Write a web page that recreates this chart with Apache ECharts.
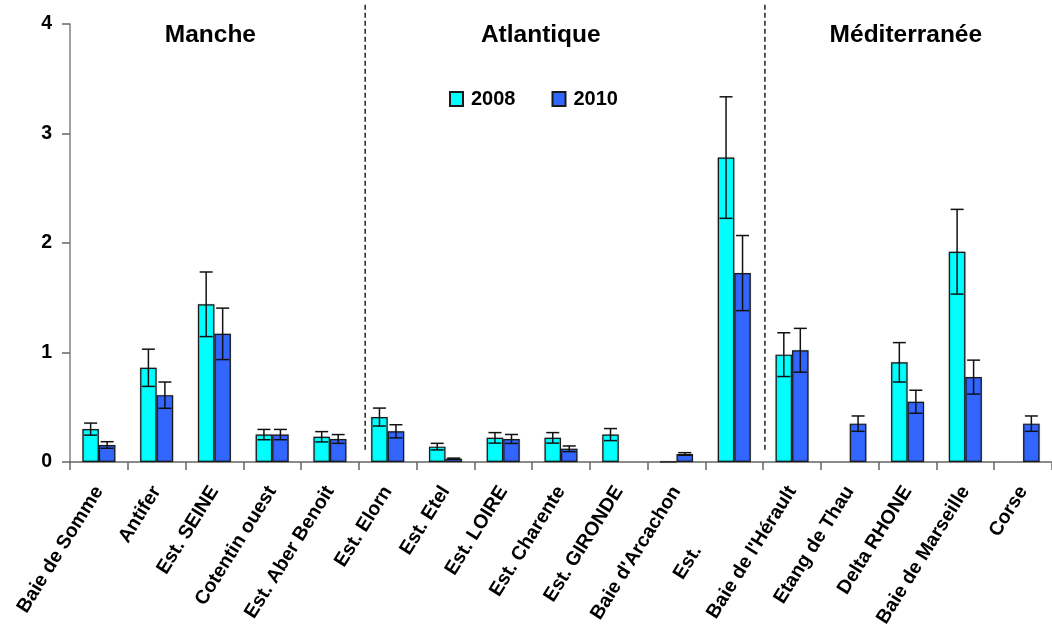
<!DOCTYPE html>
<html>
<head>
<meta charset="utf-8">
<script src="https://cdn.jsdelivr.net/npm/echarts@6/dist/echarts.min.js"></script>
<style>
  html, body { margin: 0; padding: 0; background: #fff; }
  #chart { width: 1052px; height: 630px; }
</style>
</head>
<body>
<div id="chart"></div>
<script>
// Sites, grouped by coastline
const categories = [
  'Baie de Somme', 'Antifer', 'Est. SEINE', 'Cotentin ouest', 'Est. Aber Benoit',
  'Est. Elorn', 'Est. Etel', 'Est. LOIRE', 'Est. Charente', 'Est. GIRONDE',
  "Baie d'Arcachon", 'Est.', "Baie de l'Hérault", 'Etang de Thau', 'Delta RHONE',
  'Baie de Marseille', 'Corse'
];

// Mean values and error (±) per site
const values2008 = [0.30, 0.86, 1.44, 0.25, 0.23, 0.41, 0.14, 0.22, 0.22, 0.25, 0, 2.78, 0.98, null, 0.91, 1.92, null];
const errors2008 = [0.055, 0.17, 0.295, 0.047, 0.047, 0.082, 0.03, 0.048, 0.048, 0.055, null, 0.555, 0.20, null, 0.18, 0.387, null];
const values2010 = [0.155, 0.61, 1.17, 0.25, 0.21, 0.28, 0.03, 0.21, 0.12, null, 0.073, 1.725, 1.02, 0.35, 0.55, 0.775, 0.35];
const errors2010 = [0.03, 0.12, 0.235, 0.047, 0.04, 0.06, 0.005, 0.041, 0.026, null, 0.012, 0.343, 0.20, 0.07, 0.105, 0.155, 0.07];

const yTicks = [0, 1, 2, 3, 4];

// Coastline groups: title positions and separators on a 0..17 site scale
const regions = ['Manche', 'Atlantique', 'Méditerranée'];
const regionTitleX = [2.43, 8.15, 14.47];
const regionTitleY = 3.9;
const separatorX = [5.11, 12.03];
const separatorSpan = [0.103, 4.176];

const FONT = "'Liberation Sans', Arial, sans-serif";
const BAR_W = 16.5;
const LABEL_FONT = { fontFamily: FONT, fontSize: 19.5, fontWeight: 'bold', color: '#000' };

function errorSeries(name, values, errors, side) {
  const data = [];
  values.forEach((v, i) => {
    if (v != null && errors[i] != null) data.push([i, v, errors[i]]);
  });
  return {
    type: 'custom',
    name: name,
    silent: true,
    z: 5,
    data: data,
    encode: { x: 0, y: 1 },
    renderItem(params, api) {
      const i = api.value(0), v = api.value(1), e = api.value(2);
      const hi = api.coord([i, v + e]);
      const lo = api.coord([i, v - e]);
      const x = hi[0] + side * BAR_W / 2;
      const cap = 6.5;
      const style = { stroke: '#111', lineWidth: 1.5 };
      return {
        type: 'group',
        children: [
          { type: 'line', shape: { x1: x, y1: hi[1], x2: x, y2: lo[1] }, style },
          { type: 'line', shape: { x1: x - cap, y1: hi[1], x2: x + cap, y2: hi[1] }, style },
          { type: 'line', shape: { x1: x - cap, y1: lo[1], x2: x + cap, y2: lo[1] }, style }
        ]
      };
    }
  };
}

const barItem = (color) => ({
  color: color,
  borderColor: '#1a1a1a',
  borderWidth: 1.2,
  shadowColor: 'rgba(0,0,0,0.3)',
  shadowBlur: 1.5
});

const chart = echarts.init(document.getElementById('chart'), null, { renderer: 'canvas' });

chart.setOption({
  animation: false,
  backgroundColor: '#fff',
  textStyle: { fontFamily: FONT },
  grid: { left: 70, right: -5, top: 24, bottom: 167, containLabel: false },
  legend: {
    data: ['2008', '2010'],
    left: 444,
    top: 84,
    icon: 'rect',
    itemWidth: 13,
    itemHeight: 14,
    itemGap: 36,
    textStyle: { fontFamily: FONT, fontSize: 20, fontWeight: 'bold', color: '#000', padding: [0, 0, 0, 3] }
  },
  xAxis: [
    {
      type: 'category',
      data: categories,
      axisLine: { lineStyle: { color: '#666', width: 1.5 } },
      axisTick: { show: true, length: 8, lineStyle: { color: '#666', width: 1.5 } },
      axisLabel: Object.assign({
        interval: 0,
        rotate: 58,
        margin: 26,
        // the short "Est." label sits further out along its slant
        formatter: (v) => v === 'Est.' ? '{far|' + v + '}' : v,
        rich: { far: Object.assign({ padding: [0, 70, 0, 0] }, LABEL_FONT) }
      }, LABEL_FONT),
      splitLine: { show: false }
    },
    { type: 'value', min: 0, max: 17, show: false }
  ],
  yAxis: {
    type: 'value',
    min: yTicks[0],
    max: yTicks[yTicks.length - 1],
    interval: 1,
    axisLine: { show: true, lineStyle: { color: '#808080', width: 1.5 } },
    axisTick: { show: true, length: 8, lineStyle: { color: '#666', width: 1.5 } },
    axisLabel: Object.assign({ margin: 18, padding: [10, 0, 0, 0] }, LABEL_FONT),
    splitLine: { show: false }
  },
  series: [
    {
      name: '2008', type: 'bar', data: values2008,
      barWidth: BAR_W, barGap: '0%',
      itemStyle: barItem('#00FFFF')
    },
    {
      name: '2010', type: 'bar', data: values2010,
      barWidth: BAR_W, barGap: '0%',
      itemStyle: barItem('#3366FF')
    },
    errorSeries('err2008', values2008, errors2008, -1),
    errorSeries('err2010', values2010, errors2010, 1),
    {
      type: 'custom',
      name: 'separators',
      xAxisIndex: 1,
      silent: true,
      z: 1,
      data: separatorX.map(x => [x]),
      renderItem(params, api) {
        const x = api.value(0);
        const top = api.coord([x, separatorSpan[1]]);
        const bot = api.coord([x, separatorSpan[0]]);
        return {
          type: 'line',
          shape: { x1: top[0], y1: top[1], x2: bot[0], y2: bot[1] },
          style: { stroke: '#222', lineWidth: 1.5, lineDash: [5, 3] }
        };
      }
    },
    {
      type: 'custom',
      name: 'regions',
      xAxisIndex: 1,
      silent: true,
      z: 6,
      data: regionTitleX.map((x, k) => [x, regionTitleY, k]),
      renderItem(params, api) {
        const p = api.coord([api.value(0), api.value(1)]);
        return {
          type: 'text',
          x: p[0],
          y: p[1],
          style: {
            text: regions[api.value(2)],
            fill: '#000',
            fontFamily: FONT,
            fontSize: 24.5,
            fontWeight: 'bold',
            align: 'center',
            verticalAlign: 'middle'
          }
        };
      }
    }
  ]
});
</script>
</body>
</html>
